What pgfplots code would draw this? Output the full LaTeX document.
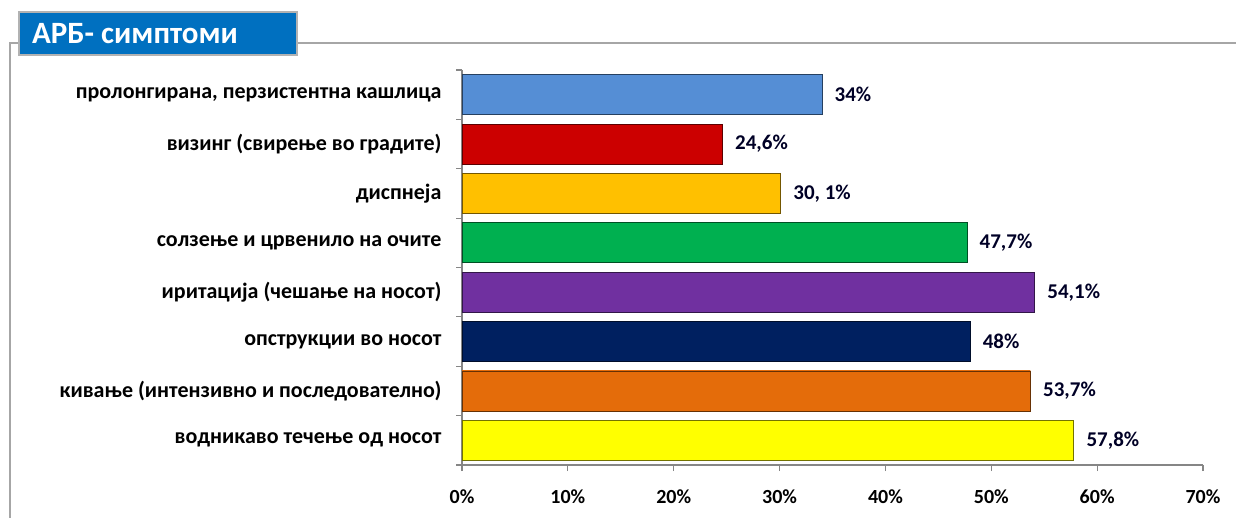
\documentclass[border=0pt]{standalone}
\usepackage{pgfplots}
\pgfplotsset{compat=1.18}
\usepackage{fontspec}
\setmainfont{Carlito}
\definecolor{titleblue}{HTML}{0070C0}
\definecolor{framegray}{HTML}{A6A6A6}
\definecolor{axisgray}{HTML}{868686}
\definecolor{cA}{HTML}{558ED5}
\definecolor{cB}{HTML}{CC0000}
\definecolor{cC}{HTML}{FFC000}
\definecolor{cD}{HTML}{00B050}
\definecolor{cE}{HTML}{7030A0}
\definecolor{cF}{HTML}{002060}
\definecolor{cG}{HTML}{E46C0A}
\definecolor{cH}{HTML}{FFFF00}
\newcommand\mkbevel[1]{%
  \pgfdeclareverticalshading{bev#1}{100bp}{color(0bp)=(#1!40!black); color(8bp)=(#1!65!black); color(14bp)=(#1); color(82bp)=(#1); color(90bp)=(#1!70!white); color(100bp)=(#1!45!white)}}
\mkbevel{cA}\mkbevel{cB}\mkbevel{cC}\mkbevel{cD}\mkbevel{cE}\mkbevel{cF}\mkbevel{cG}\mkbevel{cH}
\pgfplotsset{bev/.style={xbar, bar width=40pt, bar shift=0pt, draw=#1!45!black, line width=0.8pt, shade, shading=bev#1}}
\begin{document}
\begin{tikzpicture}[x=1pt,y=1pt]
\useasboundingbox (0,0) rectangle (1236,518);
\fill[white] (0,0) rectangle (1236,518);
\draw[framegray, line width=2pt] (10,0) -- (10,475) -- (1236,475);
\filldraw[fill=titleblue, draw=gray!60, line width=1.2pt] (19,463) rectangle (297,506);
\node[anchor=base west, text=white, inner sep=0pt, font=\fontsize{31}{34}\selectfont\bfseries] at (32,474) {АРБ- симптоми};
\begin{axis}[
  at={(462pt,53pt)}, anchor=south west,
  scale only axis, width=741pt, height=395pt,
  xmin=0, xmax=70, ymin=-0.5, ymax=7.5, y dir=reverse,
  axis x line*=bottom, axis y line*=left,
  axis line style={draw=axisgray, line width=1.2pt},
  every tick/.style={draw=axisgray, line width=1.2pt},
  tick align=outside, major tick length=6pt,
  xtick={0,10,...,70},
  xticklabel={\pgfmathprintnumber{\tick}\%},
  /pgf/number format/assume math mode=true,
  xticklabel style={font=\fontsize{20}{22}\selectfont\bfseries, yshift=-15pt},
  ytick={-0.5,0.5,...,7.5}, yticklabel=\empty,
  extra y ticks={0,1,2,3,4,5,6,7},
  extra y tick labels={{пролонгирана, перзистентна кашлица}, {визинг (свирење во градите)}, {диспнеја}, {солзење и црвенило на очите}, {иритација (чешање на носот)}, {опструкции во носот}, {кивање (интензивно и последователно)}, {водникаво течење од носот}},
  extra y tick style={major tick length=0pt, yticklabel style={font=\fontsize{22}{24}\selectfont\bfseries, xshift=-17pt}},
  nodes near coords, point meta=explicit symbolic,
  every node near coord/.append style={anchor=west, xshift=9pt, font=\fontsize{21}{23}\selectfont\bfseries, text=black!85!blue},
  clip=false,
]
\addplot[bev=cA] coordinates {(34,0) [34\%]};
\addplot[bev=cB] coordinates {(24.6,1) [24,6\%]};
\addplot[bev=cC] coordinates {(30.1,2) [30, 1\%]};
\addplot[bev=cD] coordinates {(47.7,3) [47,7\%]};
\addplot[bev=cE] coordinates {(54.1,4) [54,1\%]};
\addplot[bev=cF] coordinates {(48,5) [48\%]};
\addplot[bev=cG] coordinates {(53.7,6) [53,7\%]};
\addplot[bev=cH] coordinates {(57.8,7) [57,8\%]};
\end{axis}
\end{tikzpicture}
\end{document}
